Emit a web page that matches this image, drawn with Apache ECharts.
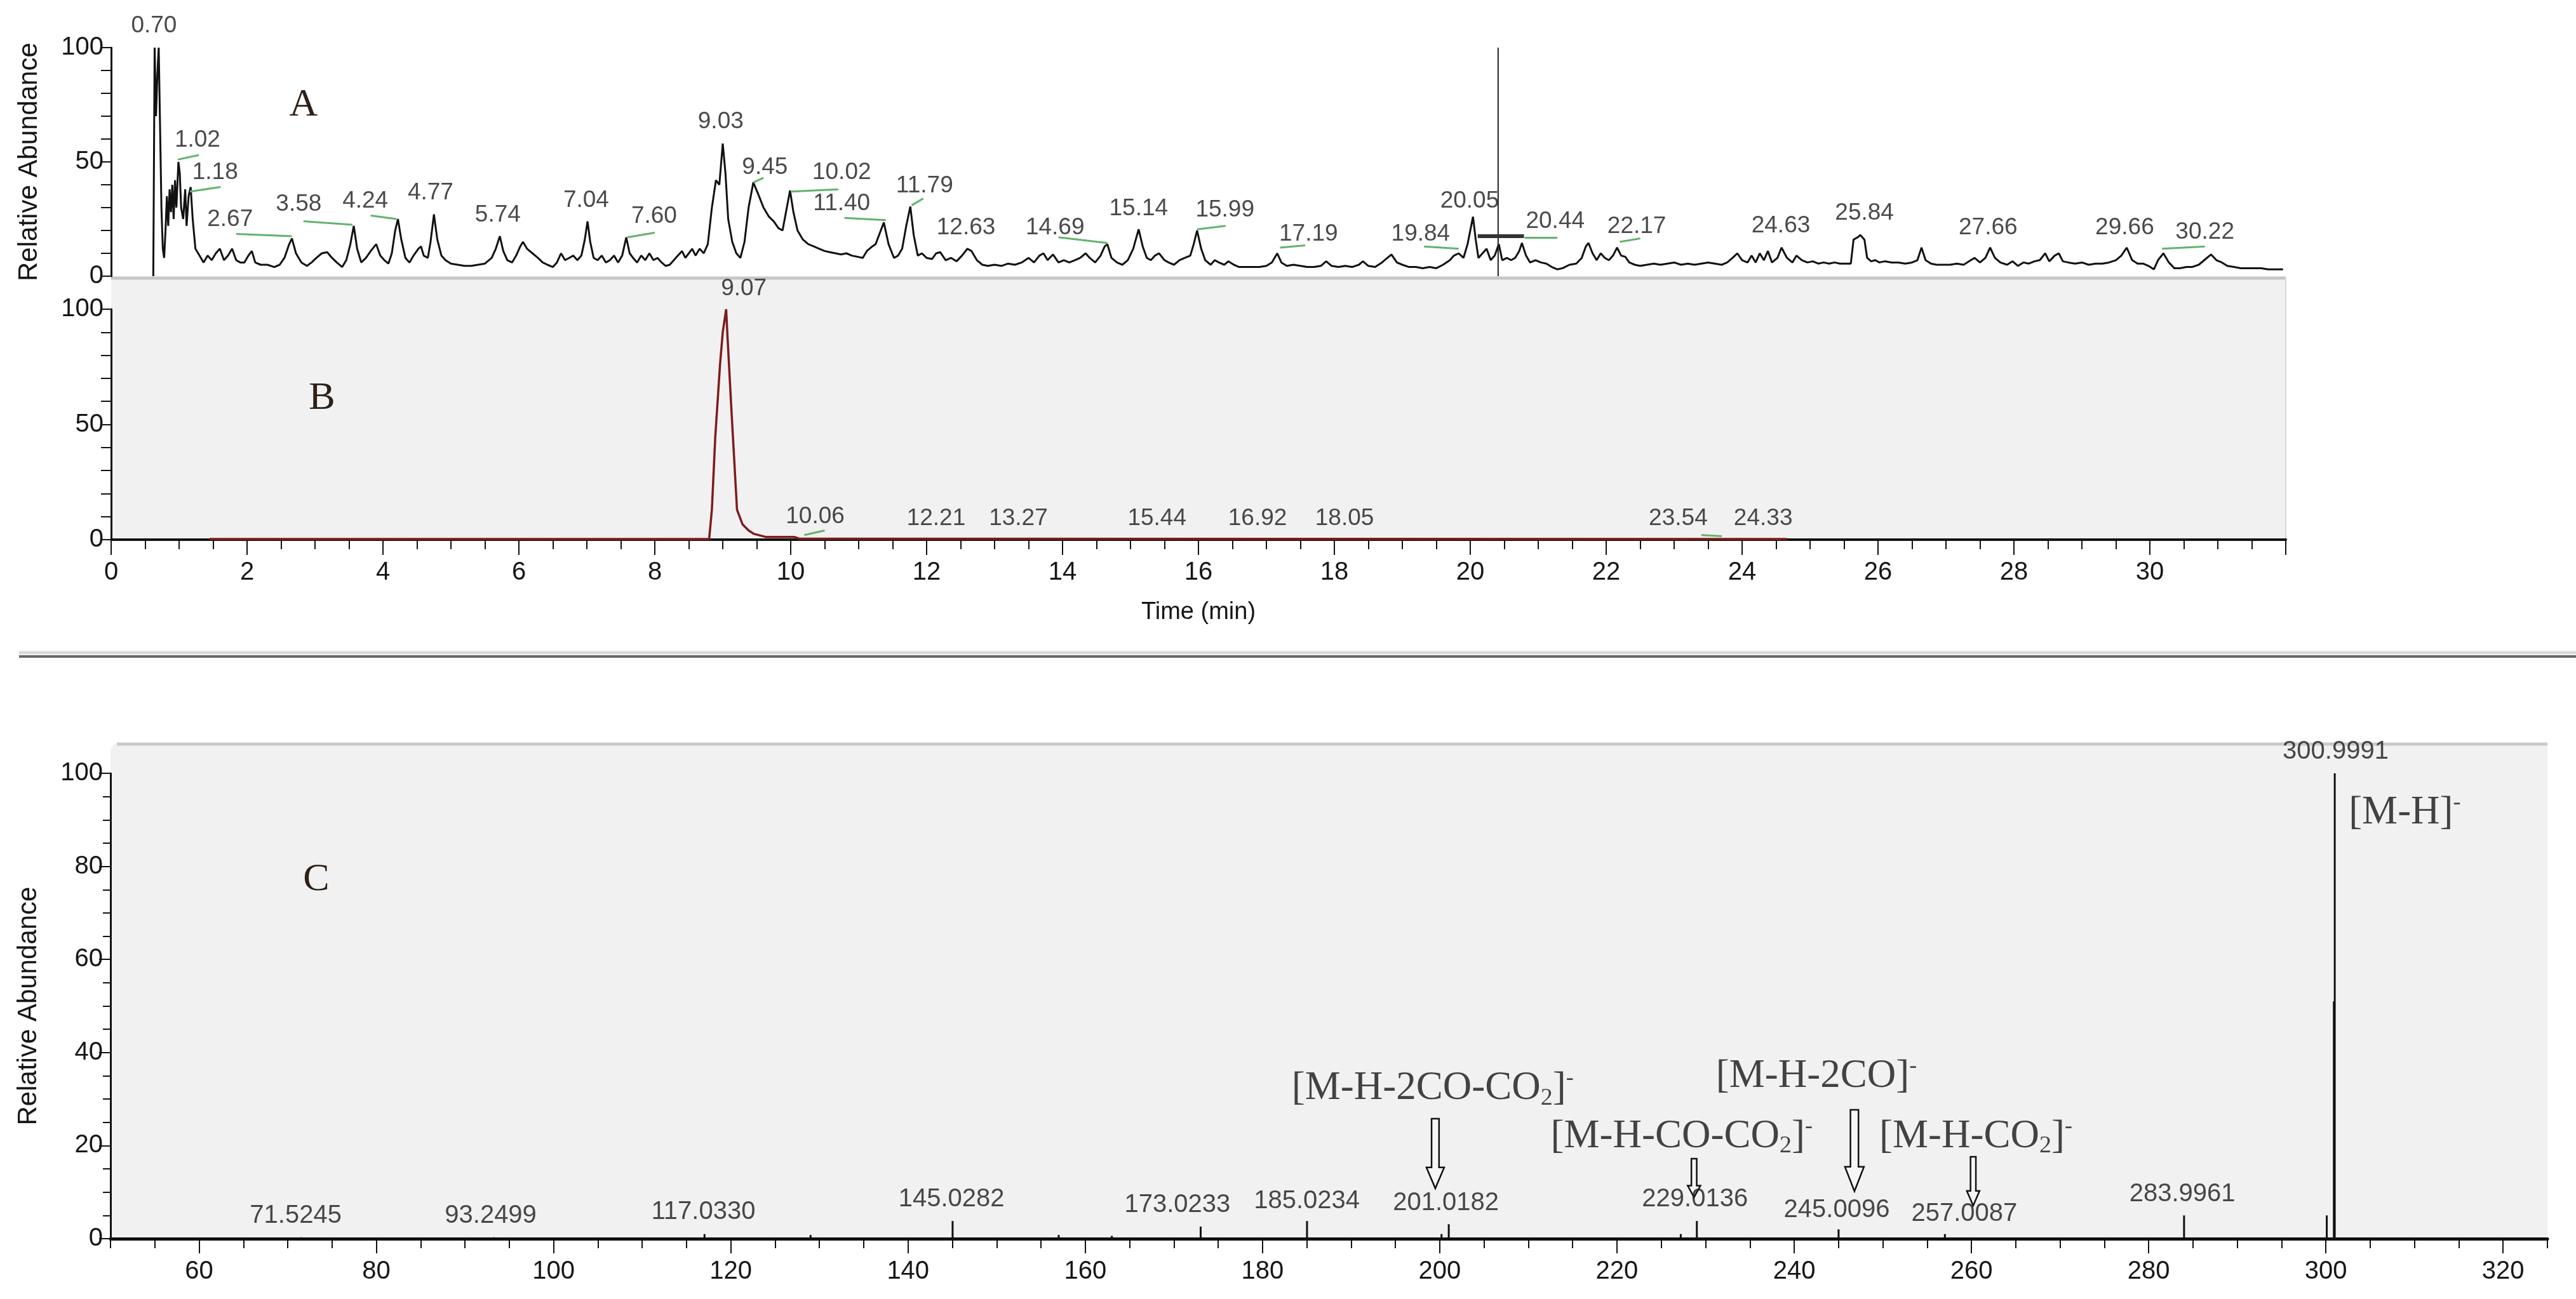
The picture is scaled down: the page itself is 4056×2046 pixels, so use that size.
<!DOCTYPE html>
<html>
<head>
<meta charset="utf-8">
<title>LC-MS chromatograms and MS/MS spectrum</title>
<script src="https://cdn.jsdelivr.net/npm/echarts@6/dist/echarts.min.js"></script>
<style>
    html, body { margin: 0; padding: 0; background: #fff; }
    #chart { width: 4056px; height: 2046px; }
</style>
</head>
<body>
<div id="chart"></div>
<script>
// ---- data ----

// A: total ion chromatogram, [time (min), relative abundance]
var ticA = [
    [0.62, 0], [0.64, 100], [0.66, 70], [0.68, 88], [0.70, 100], [0.72, 65], [0.74, 30], [0.76, 12], [0.78, 8],
    [0.80, 20], [0.82, 35], [0.84, 22], [0.86, 38], [0.88, 28], [0.90, 40], [0.92, 25], [0.94, 42], [0.96, 30],
    [0.99, 50], [1.01, 45], [1.03, 30], [1.06, 25], [1.09, 38], [1.11, 22], [1.14, 35], [1.17, 39], [1.20, 25],
    [1.24, 12], [1.30, 9], [1.36, 6], [1.42, 9], [1.48, 7], [1.54, 10], [1.60, 12], [1.66, 7], [1.72, 9],
    [1.78, 12], [1.84, 7], [1.90, 6], [1.96, 6], [2.02, 9], [2.07, 11], [2.12, 6], [2.2, 5], [2.3, 5], [2.4, 4],
    [2.48, 5], [2.55, 8], [2.62, 14], [2.66, 16.5], [2.72, 10], [2.8, 6], [2.88, 4.5], [2.95, 6], [3.02, 8],
    [3.1, 10], [3.18, 10.5], [3.25, 8], [3.32, 6], [3.4, 4], [3.46, 7], [3.52, 14], [3.57, 22], [3.62, 12],
    [3.68, 6], [3.75, 8], [3.82, 11], [3.9, 14], [3.96, 9], [4.02, 7], [4.08, 5.5], [4.13, 10], [4.18, 20],
    [4.22, 25], [4.27, 16], [4.33, 8], [4.39, 6], [4.45, 9], [4.52, 12], [4.56, 13], [4.6, 9], [4.66, 8],
    [4.7, 15], [4.75, 27], [4.8, 16], [4.86, 9], [4.92, 7], [5.0, 5.5], [5.1, 5], [5.2, 4.5], [5.3, 4.5],
    [5.4, 5], [5.5, 5.5], [5.6, 8], [5.66, 12], [5.72, 17.5], [5.77, 11], [5.83, 7], [5.9, 6], [5.96, 9],
    [6.02, 13], [6.06, 15], [6.12, 12], [6.2, 10], [6.28, 8], [6.35, 6], [6.42, 5], [6.5, 4], [6.56, 6],
    [6.62, 10], [6.68, 7], [6.74, 8], [6.8, 9], [6.86, 7], [6.92, 9], [6.97, 16], [7.01, 24], [7.05, 15],
    [7.1, 8], [7.16, 7], [7.22, 9], [7.28, 6], [7.34, 7], [7.4, 9], [7.46, 6], [7.52, 9], [7.58, 17], [7.63, 10],
    [7.68, 8], [7.74, 6], [7.8, 9], [7.86, 7], [7.92, 10], [7.98, 7], [8.04, 8], [8.1, 6], [8.16, 4.5],
    [8.22, 5], [8.28, 7], [8.34, 9], [8.4, 11], [8.45, 8], [8.5, 10], [8.55, 12], [8.6, 9], [8.66, 12],
    [8.72, 10], [8.78, 14], [8.84, 30], [8.9, 42], [8.95, 40], [9.0, 58], [9.04, 45], [9.08, 25], [9.14, 15],
    [9.2, 10], [9.26, 8], [9.32, 15], [9.38, 30], [9.45, 41], [9.52, 36], [9.6, 30], [9.68, 26], [9.75, 24],
    [9.82, 21], [9.88, 20], [9.93, 28], [9.99, 37.5], [10.04, 28], [10.1, 20], [10.18, 16], [10.26, 14],
    [10.34, 13], [10.42, 12], [10.5, 11], [10.58, 10.5], [10.66, 10], [10.74, 9.5], [10.82, 10], [10.9, 9],
    [10.98, 8.5], [11.06, 8], [11.12, 11], [11.2, 13], [11.25, 14], [11.3, 18], [11.37, 23.5], [11.44, 14],
    [11.52, 8], [11.58, 9], [11.64, 12], [11.7, 22], [11.76, 30.5], [11.81, 18], [11.87, 9], [11.93, 10],
    [12.0, 8], [12.08, 7.5], [12.14, 10], [12.2, 10.5], [12.28, 7], [12.36, 8], [12.44, 6.5], [12.52, 9],
    [12.6, 12], [12.66, 11], [12.74, 7], [12.82, 5], [12.9, 4.5], [13.0, 5], [13.1, 4.5], [13.2, 5.5],
    [13.3, 5], [13.4, 6], [13.5, 8], [13.58, 6], [13.66, 9], [13.72, 10], [13.78, 7], [13.86, 9.5], [13.94, 6],
    [14.02, 7], [14.1, 6], [14.18, 7], [14.26, 8], [14.34, 10], [14.4, 8], [14.48, 6], [14.56, 9], [14.62, 13],
    [14.66, 14], [14.72, 8], [14.8, 6], [14.88, 5], [14.96, 7], [15.04, 12], [15.12, 20.5], [15.18, 13],
    [15.24, 8], [15.3, 7], [15.36, 9], [15.42, 10], [15.5, 7], [15.56, 6], [15.64, 5], [15.72, 7], [15.8, 8],
    [15.88, 9], [15.93, 14], [15.98, 20], [16.04, 12], [16.1, 7], [16.18, 5], [16.24, 7], [16.3, 6],
    [16.38, 5], [16.44, 6.5], [16.52, 5], [16.6, 4], [16.7, 4], [16.8, 4], [16.9, 4], [17.0, 4.5], [17.08, 6],
    [17.16, 10], [17.22, 6], [17.3, 4.5], [17.4, 5], [17.5, 4.5], [17.6, 4], [17.7, 4], [17.8, 4.5],
    [17.88, 6.5], [17.96, 4.5], [18.06, 4], [18.16, 4.5], [18.26, 4], [18.36, 5], [18.42, 6.5], [18.5, 4.5],
    [18.6, 4], [18.7, 6], [18.78, 8], [18.84, 9.5], [18.92, 6], [19.0, 5], [19.1, 4], [19.2, 4], [19.3, 3.5],
    [19.4, 4], [19.5, 3.5], [19.6, 5], [19.7, 7], [19.76, 9], [19.83, 10], [19.9, 8], [19.96, 14], [20.04, 26],
    [20.08, 16], [20.12, 8], [20.18, 10], [20.24, 12], [20.3, 7], [20.36, 9], [20.42, 14], [20.47, 7],
    [20.54, 8], [20.6, 7], [20.66, 8], [20.72, 11], [20.76, 14.5], [20.82, 9], [20.88, 6], [20.96, 7],
    [21.04, 6], [21.12, 5.5], [21.2, 4], [21.28, 3], [21.36, 3.5], [21.46, 5], [21.56, 5.5], [21.64, 8],
    [21.7, 13], [21.74, 14.5], [21.8, 10], [21.86, 7], [21.92, 10], [21.98, 8], [22.04, 7], [22.1, 9],
    [22.16, 12.5], [22.22, 9], [22.28, 8.5], [22.34, 6], [22.42, 5], [22.5, 4.5], [22.6, 5], [22.7, 5.5],
    [22.8, 5], [22.9, 5.5], [23.0, 6], [23.1, 5], [23.2, 5.5], [23.3, 5], [23.4, 5.5], [23.5, 6], [23.6, 5.5],
    [23.7, 5], [23.78, 6], [23.86, 8], [23.93, 10], [24.0, 7], [24.08, 6], [24.14, 9], [24.2, 6], [24.26, 10],
    [24.32, 7], [24.38, 11], [24.44, 6], [24.52, 8], [24.58, 12.5], [24.66, 8], [24.74, 6], [24.8, 9],
    [24.88, 7], [24.96, 6], [25.04, 6.5], [25.12, 5.5], [25.2, 6], [25.28, 5.5], [25.36, 6], [25.44, 5.5],
    [25.52, 5.5], [25.6, 5.5], [25.64, 16], [25.7, 17], [25.74, 18], [25.8, 16], [25.84, 8], [25.9, 6.5],
    [25.96, 7], [26.02, 6], [26.1, 6.5], [26.2, 6], [26.3, 6], [26.4, 5.5], [26.5, 6], [26.58, 7], [26.64, 12.5],
    [26.7, 7], [26.78, 5.5], [26.86, 5], [26.96, 5], [27.06, 5], [27.16, 5.5], [27.26, 5], [27.34, 6.5],
    [27.42, 8], [27.5, 6], [27.58, 8], [27.65, 12.5], [27.72, 8], [27.8, 6], [27.9, 5], [27.98, 6.5],
    [28.06, 4.5], [28.14, 6], [28.22, 5.5], [28.3, 6.5], [28.38, 7], [28.46, 10], [28.52, 6.5], [28.6, 9],
    [28.66, 10], [28.72, 6.5], [28.8, 6], [28.9, 5.5], [29.0, 6], [29.1, 5], [29.2, 5.5], [29.3, 5.5],
    [29.4, 6], [29.5, 7], [29.58, 9], [29.66, 12.5], [29.74, 7], [29.82, 5.5], [29.9, 5.5], [29.98, 4.5],
    [30.06, 3], [30.12, 7], [30.2, 10], [30.28, 6], [30.36, 3.5], [30.44, 3.5], [30.54, 4], [30.62, 4],
    [30.72, 5], [30.82, 7.5], [30.9, 9.5], [30.98, 7], [31.06, 6], [31.14, 4.5], [31.24, 4], [31.34, 3.5],
    [31.44, 3.5], [31.54, 3.5], [31.64, 3.5], [31.74, 3], [31.84, 3], [31.96, 3]
];
// cursor line and range bar drawn on trace A
var cursorA = [[20.41, 0], [20.41, 100]];
var rangeBarA = [[20.11, 17.5], [20.79, 17.5]];
// peak labels A: [text, time, abundance under label]
var peakLabelsA = [
    ['0.70', 0.63, 105], ['1.02', 1.27, 55], ['1.18', 1.53, 41], ['2.67', 1.75, 20.4], ['3.58', 2.76, 27],
    ['4.24', 3.74, 28.3], ['4.77', 4.70, 32], ['5.74', 5.69, 22.2], ['7.04', 6.99, 28.7], ['7.60', 7.99, 21.8],
    ['9.03', 8.97, 63], ['9.45', 9.62, 43], ['10.02', 10.75, 41], ['11.40', 10.75, 27.3], ['11.79', 11.97, 35],
    ['12.63', 12.58, 16.7], ['14.69', 13.89, 16.7], ['15.14', 15.12, 25], ['15.99', 16.39, 24.6],
    ['17.19', 17.62, 13.9], ['19.84', 19.27, 13.9], ['20.05', 19.99, 28.3], ['20.44', 21.25, 19.4],
    ['22.17', 22.45, 17.2], ['24.63', 24.57, 17.6], ['25.84', 25.80, 23.1], ['27.66', 27.62, 16.7],
    ['29.66', 29.63, 16.7], ['30.22', 30.81, 14.8]
];
// green peak marks A: [t1, v1, t2, v2]
var peakMarksA = [
    [0.98, 51, 1.29, 53], [1.16, 37, 1.61, 39], [1.84, 18.5, 2.66, 17.5], [2.83, 24, 3.55, 22.5],
    [3.82, 26.5, 4.2, 25], [7.6, 17, 8.0, 19], [9.45, 41, 9.6, 43], [10.0, 37, 10.7, 38],
    [10.79, 25.5, 11.4, 24.5], [11.78, 31, 11.95, 34], [13.94, 17, 14.66, 14.5], [15.98, 20.5, 16.4, 22],
    [17.2, 12.5, 17.57, 13.5], [19.32, 13, 19.83, 12], [20.8, 17, 21.28, 17], [22.2, 15, 22.5, 16.5],
    [30.18, 12, 30.81, 13]
];

// B: extracted ion chromatogram
var xicB = [
    [1.45, 0.3], [8.80, 0.3], [8.84, 13], [8.89, 44.6], [8.96, 76], [9.0, 90], [9.05, 100], [9.07, 88],
    [9.13, 55], [9.21, 13], [9.29, 6.7], [9.38, 4], [9.46, 2.5], [9.63, 1.2], [10.05, 1.2], [10.13, 0.4],
    [24.66, 0.3]
];
var peakLabelsB = [
    ['9.07', 9.31, 104.5], ['10.06', 10.36, 5.6], ['12.21', 12.14, 4.7], ['13.27', 13.35, 4.7],
    ['15.44', 15.39, 4.7], ['16.92', 16.87, 4.7], ['18.05', 18.15, 4.7], ['23.54', 23.06, 4.7],
    ['24.33', 24.31, 4.7]
];
var peakMarksB = [[9.12, 101, 9.38, 103], [10.2, 2, 10.5, 4], [23.4, 2, 23.7, 1.5]];

// C: MS/MS spectrum, m/z and relative abundance
var mzC = [71.5245, 93.2499, 117.0330, 129.0, 145.0282, 157.0, 163.0, 173.0233, 185.0234, 200.2, 201.0182,
    227.2, 229.0136, 245.0096, 257.0087, 283.9961, 300.1, 300.9, 300.9991];
var abundC = [0.3, 0.3, 1, 0.8, 3.8, 0.8, 0.6, 2.6, 3.8, 1, 3.1, 1, 3.8, 2, 1, 5, 5, 51, 100];
var peakLabelsC = [
    ['71.5245', 70.9, 2.5], ['93.2499', 92.9, 2.5], ['117.0330', 116.9, 3.4], ['145.0282', 144.9, 6.1],
    ['173.0233', 170.4, 4.8], ['185.0234', 185.0, 5.7], ['201.0182', 200.7, 5.2], ['229.0136', 228.8, 6.1],
    ['245.0096', 244.8, 3.8], ['257.0087', 259.2, 2.9], ['283.9961', 283.8, 7.1], ['300.9991', 301.1, 102.3]
];
// fragment annotations: [text, m/z, abundance under text]
var ionLabelsC = [
    ['[M-H-2CO-CO_2]^-', 199.2, 27.5], ['[M-H-CO-CO_2]^-', 227.3, 17.2], ['[M-H-2CO]^-', 242.5, 30.2],
    ['[M-H-CO_2]^-', 260.5, 17.2], ['[M-H]^-', 308.9, 86.8]
];
// arrows: [m/z, top abundance, tip abundance]
var arrowsC = [[199.5, 25.8, 10.8], [228.7, 17.2, 8.9], [246.8, 27.7, 10.2], [260.2, 17.6, 7.1]];

var timeTicks = { min: 0, max: 32, step: 2 };
var mzTicks = [60, 80, 100, 120, 140, 160, 180, 200, 220, 240, 260, 280, 300, 320];

// ---- styles ----
var SANS = '"Liberation Sans", Arial, sans-serif';
var SERIF = '"Liberation Serif", "Times New Roman", serif';
var INK = '#161616';
var arrowWidths = [28, 20, 30, 20];

function labelSeries(xi, yi, items, size) {
    return {
        type: 'scatter', xAxisIndex: xi, yAxisIndex: yi, symbolSize: 1, clip: false, silent: true, z: 6,
        itemStyle: { color: 'rgba(0,0,0,0)' },
        data: items.map(function (d) { return { name: d[0], value: [d[1], d[2]] }; }),
        label: { show: true, position: 'top', distance: -3, formatter: '{b}', fontSize: size, fontFamily: SANS, color: '#1c1c1c' }
    };
}

function markSeries(xi, yi, items) {
    return {
        type: 'lines', coordinateSystem: 'cartesian2d', xAxisIndex: xi, yAxisIndex: yi, silent: true, z: 4,
        lineStyle: { color: '#63b26c', width: 3, opacity: 1 },
        data: items.map(function (d) { return { coords: [[d[0], d[1]], [d[2], d[3]]] }; })
    };
}

function ionRich(s) {
    return s.split(/(_2|\^-)/).filter(Boolean).map(function (p) {
        if (p === '_2') return '{s|2}';
        if (p === '^-') return '{p|-}';
        return '{t|' + p + '}';
    }).join('');
}

function renderArrow(params, api) {
    var top = api.coord([api.value(0), api.value(1)]);
    var tip = api.coord([api.value(0), api.value(2)]);
    var w = arrowWidths[params.dataIndex];
    var sw = w * 0.42;
    var cx = top[0];
    var hs = top[1] + (tip[1] - top[1]) * 0.7;
    return {
        type: 'polygon',
        shape: { points: [[cx - sw / 2, top[1]], [cx + sw / 2, top[1]], [cx + sw / 2, hs], [cx + w / 2, hs],
            [cx, tip[1]], [cx - w / 2, hs], [cx - sw / 2, hs]] },
        style: { fill: '#f6f6f6', stroke: '#111', lineWidth: 2.5 }
    };
}

var axisText = { fontSize: 40, fontFamily: SANS, color: INK };

function abundanceAxis(grid, step, minorSplit, withName, tickLen, minorLen) {
    return {
        type: 'value', gridIndex: grid, min: 0, max: 100, interval: step,
        axisLine: { show: true, lineStyle: { color: '#111', width: 3 } },
        axisTick: { show: true, length: tickLen, lineStyle: { color: '#111', width: 2 } },
        minorTick: { show: true, splitNumber: minorSplit, length: minorLen, lineStyle: { color: '#111', width: 2 } },
        splitLine: { show: false },
        axisLabel: Object.assign({ margin: 12 }, axisText),
        name: withName ? 'Relative Abundance' : '',
        nameLocation: 'middle', nameRotate: 90, nameGap: 108,
        nameTextStyle: { fontSize: 42, fontFamily: SANS, color: INK }
    };
}

var chart = echarts.init(document.getElementById('chart'));
chart.setOption({
    animation: false,
    backgroundColor: '#fff',
    grid: [
        { left: 175, top: 75, width: 3424, height: 360 },
        { left: 175, top: 487, width: 3424, height: 363 },
        { left: 174, top: 1218, width: 3837, height: 733 }
    ],
    xAxis: [
        { type: 'value', gridIndex: 0, min: timeTicks.min, max: timeTicks.max, show: false },
        {
            type: 'value', gridIndex: 1, min: timeTicks.min, max: timeTicks.max, interval: timeTicks.step,
            axisLine: { onZero: false, lineStyle: { color: '#111', width: 4 } },
            axisTick: { length: 24, lineStyle: { color: '#111', width: 2 } },
            minorTick: { show: true, splitNumber: 4, length: 15, lineStyle: { color: '#111', width: 2 } },
            splitLine: { show: false },
            axisLabel: Object.assign({ margin: 32, formatter: function (v) { return v === timeTicks.max ? '' : v; } }, axisText),
            name: 'Time (min)', nameLocation: 'middle', nameGap: 96,
            nameTextStyle: { fontSize: 38, fontFamily: SANS, color: INK }
        },
        {
            type: 'value', gridIndex: 2, min: 50, max: 325,
            axisLine: { onZero: false, lineStyle: { color: '#111', width: 5 } },
            axisTick: { customValues: mzTicks, length: 23, lineStyle: { color: '#111', width: 2 } },
            splitLine: { show: false },
            axisLabel: Object.assign({ margin: 32, customValues: mzTicks }, axisText)
        },
        {
            type: 'value', gridIndex: 2, min: 50, max: 325, interval: 5, position: 'bottom',
            axisLine: { show: false },
            axisTick: { length: 15, lineStyle: { color: '#111', width: 2 } },
            splitLine: { show: false },
            axisLabel: { show: false }
        }
    ],
    yAxis: [
        abundanceAxis(0, 50, 5, true, 16, 16),
        abundanceAxis(1, 50, 5, false, 16, 16),
        abundanceAxis(2, 20, 4, true, 18, 12)
    ],
    graphic: [
        { type: 'rect', z: -1, silent: true, shape: { x: 175, y: 437, width: 3424, height: 413 }, style: { fill: '#f1f1f1' } },
        { type: 'line', z: -1, silent: true, shape: { x1: 175, y1: 438, x2: 3599, y2: 438 }, style: { stroke: '#c6c6c6', lineWidth: 5 } },
        { type: 'line', z: -1, silent: true, shape: { x1: 3599, y1: 437, x2: 3599, y2: 850 }, style: { stroke: '#d6d6d6', lineWidth: 2 } },
        { type: 'line', z: -1, silent: true, shape: { x1: 30, y1: 1028, x2: 4056, y2: 1028 }, style: { stroke: '#dadada', lineWidth: 5 } },
        { type: 'line', z: -1, silent: true, shape: { x1: 30, y1: 1034, x2: 4056, y2: 1034 }, style: { stroke: '#666', lineWidth: 4 } },
        { type: 'rect', z: -1, silent: true, shape: { x: 174, y: 1171, width: 3837, height: 780, r: [12, 0, 0, 0] }, style: { fill: '#f1f1f1' } },
        { type: 'line', z: -1, silent: true, shape: { x1: 184, y1: 1172, x2: 4011, y2: 1172 }, style: { stroke: '#c9c9c9', lineWidth: 5 } },
        { type: 'text', z: 10, x: 478, y: 166, style: { text: 'A', font: '62px ' + SERIF, fill: '#2e2016', align: 'center', verticalAlign: 'middle' } },
        { type: 'text', z: 10, x: 507, y: 628, style: { text: 'B', font: '62px ' + SERIF, fill: '#2e2016', align: 'center', verticalAlign: 'middle' } },
        { type: 'text', z: 10, x: 498, y: 1386, style: { text: 'C', font: '62px ' + SERIF, fill: '#2e2016', align: 'center', verticalAlign: 'middle' } }
    ],
    series: [
        // panel A
        { type: 'line', xAxisIndex: 0, yAxisIndex: 0, data: ticA, showSymbol: false, symbol: 'none', clip: false,
            lineStyle: { color: '#111', width: 3 }, z: 3 },
        { type: 'line', xAxisIndex: 0, yAxisIndex: 0, data: cursorA, symbol: 'none', lineStyle: { color: '#222', width: 2 } },
        { type: 'line', xAxisIndex: 0, yAxisIndex: 0, data: rangeBarA, symbol: 'none', lineStyle: { color: '#333', width: 6 } },
        markSeries(0, 0, peakMarksA),
        labelSeries(0, 0, peakLabelsA, 37),
        // panel B
        { type: 'line', xAxisIndex: 1, yAxisIndex: 1, data: xicB, symbol: 'none', clip: false,
            lineStyle: { color: '#7e1c1c', width: 3.5 }, z: 3 },
        markSeries(1, 1, peakMarksB),
        labelSeries(1, 1, peakLabelsB, 37),
        // panel C
        { type: 'bar', xAxisIndex: 2, yAxisIndex: 2, barWidth: 3, itemStyle: { color: '#111' },
            data: mzC.map(function (m, i) { return [m, abundC[i]]; }) },
        labelSeries(2, 2, peakLabelsC, 40),
        { type: 'custom', xAxisIndex: 2, yAxisIndex: 2, data: arrowsC, renderItem: renderArrow, clip: false,
            encode: { x: 0, y: [1, 2] }, silent: true, z: 5 },
        {
            type: 'scatter', xAxisIndex: 2, yAxisIndex: 2, symbolSize: 1, clip: false, silent: true, z: 6,
            itemStyle: { color: 'rgba(0,0,0,0)' },
            data: ionLabelsC.map(function (d) { return { name: d[0], value: [d[1], d[2]] }; }),
            label: {
                show: true, position: 'top', distance: 0,
                formatter: function (p) { return ionRich(p.name); },
                rich: {
                    t: { fontFamily: SERIF, fontSize: 63, color: INK, lineHeight: 68 },
                    s: { fontFamily: SERIF, fontSize: 38, color: INK, verticalAlign: 'bottom', lineHeight: 42 },
                    p: { fontFamily: SERIF, fontSize: 36, color: INK, verticalAlign: 'top', lineHeight: 42 }
                }
            }
        }
    ]
});
</script>
</body>
</html>
